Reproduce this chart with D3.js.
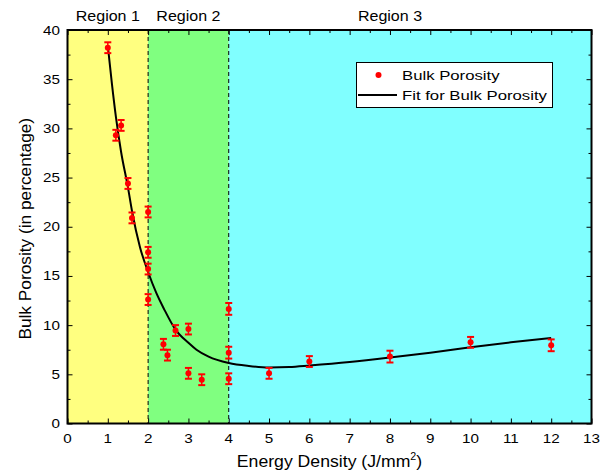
<!DOCTYPE html>
<html>
<head>
<meta charset="utf-8">
<script src="https://cdn.jsdelivr.net/npm/d3@7"></script>
<style>
  body { margin: 0; background: #fff; }
  svg { display: block; font-family: "Liberation Sans", Arial, sans-serif; }
</style>
</head>
<body>
<svg id="chart" width="614" height="474"></svg>
<script>
// ---- Data ----
const energy   = [1, 1.2, 1.33, 1.5, 1.6, 2, 2, 2, 2, 2.38, 2.48, 2.68, 3, 3, 3.33, 4, 4, 4, 5, 6, 8, 10, 12];
const porosity = [38.2, 29.3, 30.3, 24.4, 20.9, 21.5, 17.4, 15.7, 12.6, 8.05, 6.95, 9.45, 9.6, 5.1, 4.45, 11.65, 7.2, 4.55, 5.1, 6.3, 6.8, 8.25, 7.95];
const errors   = [0.55, 0.55, 0.55, 0.55, 0.55, 0.55, 0.55, 0.55, 0.55, 0.55, 0.55, 0.55, 0.55, 0.55, 0.55, 0.6, 0.6, 0.55, 0.55, 0.55, 0.6, 0.55, 0.6];

const fitX = [1, 1.1, 1.2, 1.33, 1.5, 1.6, 1.8, 2, 2.2, 2.4, 2.67, 3, 3.2, 3.5, 4, 4.5, 5, 5.5, 6, 7, 8, 9, 10, 11, 12];
const fitY = [38.4, 34.6, 31.2, 27.6, 24.0, 21.6, 17.9, 15.4, 13.3, 11.6, 9.6, 8.2, 7.5, 6.8, 6.15, 5.85, 5.7, 5.75, 5.9, 6.25, 6.7, 7.2, 7.75, 8.25, 8.7];

const regionNames  = ["Region 1", "Region 2", "Region 3"];
const regionStarts = [0, 2, 4];
const regionEnds   = [2, 4, 13];
const regionLabelX = [1, 3, 8];
const regionColors = ["#FFFF80", "#80FF80", "#80FFFF"];

const xTicks = [0,1,2,3,4,5,6,7,8,9,10,11,12,13];
const yTicks = [0,5,10,15,20,25,30,35,40];

const legendLabels = ["Bulk Porosity", "Fit for Bulk Porosity"];
const xTitle = "Energy Density (J/mm";
const yTitle = "Bulk Porosity (in percentage)";

// ---- Layout ----
const svg = d3.select("#chart");
const L = 67.5, R = 591.5, T = 30, B = 423.5;
const x = d3.scaleLinear().domain([0, 13]).range([L, R]);
const y = d3.scaleLinear().domain([0, 40]).range([B, T]);

// place text at (px,py) with horizontal stretch sx
function stretchedText(sel, px, py, sx, rot) {
  sel.attr("x", 0).attr("y", 0)
     .attr("transform", `translate(${px},${py})` + (rot ? ` rotate(${rot})` : "") + ` scale(${sx},1)`);
  return sel;
}

// Regions
const g = svg.append("g");
g.selectAll("rect.region").data(regionNames).enter().append("rect")
  .attr("x", (d,i) => x(regionStarts[i]))
  .attr("y", T)
  .attr("width", (d,i) => x(regionEnds[i]) - x(regionStarts[i]))
  .attr("height", B - T)
  .attr("fill", (d,i) => regionColors[i]);

// dashed separators
g.selectAll("line.sep").data([2, 4]).enter().append("line")
  .attr("x1", d => x(d)).attr("x2", d => x(d))
  .attr("y1", T).attr("y2", B)
  .attr("stroke", "#000").attr("stroke-width", 1)
  .attr("stroke-dasharray", "4,3");

// Region labels
regionNames.forEach((d, i) => {
  stretchedText(svg.append("text"), x(regionLabelX[i]), 21, 1.07)
    .attr("text-anchor", "middle").attr("font-size", 15).attr("fill", "#000").text(d);
});

// Axes (inward ticks, mirrored)
const minorX = d3.range(0, 13.01, 0.5).filter(v => Math.abs(v - Math.round(v)) > 0.01);
const minorY = d3.range(0, 40.01, 2.5).filter(v => v % 5 !== 0);

function tickSet(axisGen, tr) {
  const a = svg.append("g").attr("transform", tr).call(axisGen);
  a.select(".domain").remove();
  a.selectAll("line").attr("stroke", "#000").attr("stroke-width", 1);
  return a;
}
// bottom
const xb = tickSet(d3.axisBottom(x).tickValues(xTicks).tickSize(-5).tickFormat(""), `translate(0,${B})`);
tickSet(d3.axisBottom(x).tickValues(minorX).tickSize(-3).tickFormat(""), `translate(0,${B})`);
xTicks.forEach(v => {
  stretchedText(svg.append("text"), x(v), 443, 1.22)
    .attr("text-anchor", "middle").attr("font-size", 12.5).attr("fill", "#000").text(d3.format("d")(v));
});
// top
tickSet(d3.axisTop(x).tickValues(xTicks).tickSize(-5).tickFormat(""), `translate(0,${T})`);
tickSet(d3.axisTop(x).tickValues(minorX).tickSize(-3).tickFormat(""), `translate(0,${T})`);
// left
tickSet(d3.axisLeft(y).tickValues(yTicks).tickSize(-5).tickFormat(""), `translate(${L},0)`);
tickSet(d3.axisLeft(y).tickValues(minorY).tickSize(-3).tickFormat(""), `translate(${L},0)`);
yTicks.forEach(v => {
  stretchedText(svg.append("text"), 60, y(v) + 4.5, 1.22)
    .attr("text-anchor", "end").attr("font-size", 12.5).attr("fill", "#000").text(d3.format("d")(v));
});
// right
tickSet(d3.axisRight(y).tickValues(yTicks).tickSize(-5).tickFormat(""), `translate(${R},0)`);
tickSet(d3.axisRight(y).tickValues(minorY).tickSize(-3).tickFormat(""), `translate(${R},0)`);

// Frame
svg.append("rect").attr("x", L).attr("y", T).attr("width", R - L).attr("height", B - T)
  .attr("fill", "none").attr("stroke", "#000").attr("stroke-width", 2);

// Fit curve
const fitData = fitX.map((v,i) => [v, fitY[i]]);
svg.append("path").datum(fitData)
  .attr("d", d3.line().x(d => x(d[0])).y(d => y(d[1])).curve(d3.curveMonotoneX))
  .attr("fill", "none").attr("stroke", "#000").attr("stroke-width", 2);

// Error bars + points
const pts = energy.map((v,i) => ({x: v, y: porosity[i], e: errors[i]}));
const eb = svg.append("g").attr("stroke", "#FF0000");
eb.selectAll("line.v").data(pts).enter().append("line")
  .attr("x1", d => x(d.x)).attr("x2", d => x(d.x))
  .attr("y1", d => y(d.y + d.e)).attr("y2", d => y(d.y - d.e))
  .attr("stroke-width", 1.5);
eb.selectAll("line.t").data(pts).enter().append("line")
  .attr("x1", d => x(d.x) - 3.5).attr("x2", d => x(d.x) + 3.5)
  .attr("y1", d => y(d.y + d.e)).attr("y2", d => y(d.y + d.e))
  .attr("stroke-width", 2);
eb.selectAll("line.b").data(pts).enter().append("line")
  .attr("x1", d => x(d.x) - 3.5).attr("x2", d => x(d.x) + 3.5)
  .attr("y1", d => y(d.y - d.e)).attr("y2", d => y(d.y - d.e))
  .attr("stroke-width", 2);
svg.selectAll("circle.pt").data(pts).enter().append("circle")
  .attr("cx", d => x(d.x)).attr("cy", d => y(d.y)).attr("r", 3)
  .attr("fill", "#FF0000");

// Legend
const lg = svg.append("g");
lg.append("rect").attr("x", 356.5).attr("y", 62.5).attr("width", 196).attr("height", 45)
  .attr("fill", "#fff").attr("stroke", "#000").attr("stroke-width", 1);
lg.append("circle").attr("cx", 378.5).attr("cy", 75).attr("r", 3).attr("fill", "#FF0000");
lg.append("line").attr("x1", 358).attr("x2", 397).attr("y1", 95).attr("y2", 95)
  .attr("stroke", "#000").attr("stroke-width", 2);
legendLabels.forEach((d, i) => {
  stretchedText(lg.append("text"), 402, 79.5 + i * 20.5, 1.24)
    .attr("font-size", 13.5).attr("fill", "#000").text(d);
});

// Axis titles
const xt = stretchedText(svg.append("text"), x(6.5), 466.5, 1.07)
  .attr("text-anchor", "middle").attr("font-size", 16.5).attr("fill", "#000");
xt.append("tspan").text(xTitle);
xt.append("tspan").attr("font-size", 10).attr("dy", -7).text("2");
xt.append("tspan").attr("dy", 7).text(")");

stretchedText(svg.append("text"), 31, (T + B) / 2 + 2, 1.08, -90)
  .attr("text-anchor", "middle").attr("font-size", 16).attr("fill", "#000")
  .text(yTitle);
</script>
</body>
</html>
